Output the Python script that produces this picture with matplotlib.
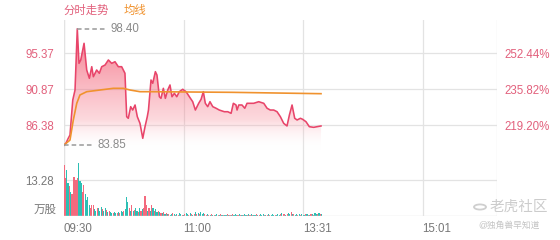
import numpy as np
import matplotlib
matplotlib.use("Agg")
import matplotlib.pyplot as plt
from matplotlib.colors import LinearSegmentedColormap
from matplotlib.patches import Polygon, Circle

plt.rcParams['font.family'] = ['Liberation Sans', 'Noto Sans CJK SC', 'DejaVu Sans']

# minute index from 09:30 (trading minutes), price at the line's vertices
price_t = [0, 1.5, 3.2, 4.5, 6.6, 8.3, 10.0, 11.3, 12.6, 15.1, 17.1, 19.1, 20.9, 22.1,
           24.6, 26.6, 28.4, 30.9, 33.4, 35.9, 38.4, 40.9, 43.4, 45.9, 47.2, 48.4,
           50.2, 51.7, 53.5, 55.2, 57.2, 59.3, 61.0, 62.7, 63.6, 65.5, 66.8, 68.8,
           70.0, 71.8, 73.0, 74.8, 76.3, 78.1, 79.8, 81.3, 83.1, 84.9, 86.8, 89.4,
           91.9, 94.4, 96.9, 98.9, 101.4, 103.2, 104.9, 106.4, 108.2, 109.9, 112.0,
           114.5, 116.9, 120.7, 123.3, 125.8, 127.5, 129.5, 130.3, 131.6, 134.0,
           136.1, 137.8, 142.8, 146.6, 150.4, 152.9, 155.3, 157.9, 160.4, 162.9,
           165.4, 167.9, 169.7, 171.7, 173.7, 175.5, 178.0, 179.7, 182.2, 184.7,
           188.0, 190.5, 193.5]
price = [83.85, 84.13, 84.72, 85.13, 89.50, 90.75, 98.40, 94.08, 94.50, 96.58, 93.25,
         92.21, 93.66, 92.41, 93.25, 92.84, 93.66, 93.87, 94.50, 94.08, 94.28, 93.66,
         93.66, 92.84, 87.42, 87.22, 88.67, 88.25, 88.88, 87.42, 86.59, 84.72, 86.17,
         87.42, 88.25, 92.00, 91.59, 93.04, 92.62, 89.91, 89.71, 90.96, 89.71, 90.75,
         91.38, 89.91, 90.34, 89.91, 90.54, 90.84, 90.54, 89.91, 89.29, 88.25, 89.09,
         89.59, 90.54, 89.09, 88.67, 89.29, 88.67, 88.47, 88.25, 88.04, 88.04, 87.84,
         89.09, 88.88, 88.25, 88.88, 88.88, 88.47, 89.09, 89.09, 89.29, 89.09, 88.47,
         88.25, 88.25, 88.04, 87.42, 86.59, 86.26, 87.63, 88.88, 87.22, 87.01, 87.22,
         87.09, 86.79, 86.17, 86.09, 86.17, 86.26]

avg_t = [0, 4.5, 7.0, 9.6, 12.0, 17.1, 27.1, 37.1, 44.6, 49.7, 57.2, 64.8, 126.5, 193.5]
avg_price = [83.88, 84.50, 87.00, 89.09, 90.13, 90.54, 90.75, 90.96, 90.96, 90.75,
             90.54, 90.54, 90.46, 90.29]

volume = [
    18.8, 14.0, 17.0, 12.0, 11.0, 9.0, 8.0, 14.5, 14.3, 13.3,
    14.0, 19.4, 13.0, 12.0, 9.0, 11.4, 8.0, 6.0, 7.1, 4.0,
    3.0, 4.0, 4.2, 2.5, 2.0, 2.8, 3.0, 2.0, 3.2, 2.5,
    2.0, 3.0, 2.2, 1.5, 1.8, 1.5, 1.2, 1.0, 1.5, 1.0,
    1.2, 1.5, 1.0, 2.0, 1.5, 2.0, 2.5, 7.1, 5.0, 3.0,
    2.0, 4.0, 2.0, 2.2, 3.0, 2.0, 1.5, 3.0, 2.0, 2.5,
    3.0, 7.4, 4.0, 2.0, 3.0, 2.0, 4.0, 3.0, 2.0, 2.5,
    1.5, 2.0, 1.5, 1.2, 1.0, 1.5, 0.8, 1.0, 0.6, 0.8,
    0.5, 0.7, 1.0, 0.6, 0.4, 0.8, 0.5, 1.2, 0.6, 0.4,
    0.5, 0.8, 1.0, 0.6, 0.5, 1.1, 0.7, 0.4, 0.9, 1.3,
    0.6, 1.0, 0.8, 1.4, 0.7, 1.2, 0.6, 0.5, 0.9, 0.4,
    0.3, 0.6, 0.4, 0.3, 0.5, 0.8, 0.3, 0.4, 0.6, 0.3,
    0.5, 0.4, 0.3, 0.7, 0.4, 0.3, 0.5, 0.6, 0.4, 0.8,
    0.5, 0.4, 0.6, 0.3, 0.5, 0.4, 0.7, 0.5, 0.4, 0.6,
    0.5, 0.8, 0.4, 0.5, 0.3, 0.6, 0.4, 0.5, 0.7, 0.4,
    0.6, 0.5, 0.3, 0.4, 0.8, 0.5, 0.4, 0.6, 0.3, 0.5,
    0.4, 0.7, 0.5, 0.9, 1.1, 0.6, 0.8, 0.5, 0.7, 1.2,
    0.9, 1.4, 0.7, 0.6, 0.5, 0.8, 0.4, 0.6, 0.5, 0.7,
    0.4, 0.5, 0.6, 0.8, 0.5, 0.4, 0.7, 0.6, 0.5, 1.0,
    0.8, 0.6, 1.2, 0.7, 0.9,
]
# r = up minute, g = down minute
vol_dir = ("rrggrgrrrr" "rgggrrgggg" "rrrggrgggr" "ggrgrggrgg" "rgrggrgggr"
           "grgrggrgrg" "rrrgrgrgrg" "grgrgrgrgr" "ggrgrgrggr" "grggrgrgrg"
           "rgrgggrrgr" "grgrggrgrg" "rggrgrgrgg" "grgrgrggrg" "rgrggrgrgg"
           "grgrgrgggr" "gggrgrrgrg" "grgrggrgrg" "ggrgrgrgrg" "grgrg")

price_ticks = [95.37, 90.87, 86.38]
price_labels = ['95.37', '90.87', '86.38']
pct_labels = ['252.44%', '235.82%', '219.20%']
vol_ticks = [13.28]
vol_labels = ['13.28']
time_ticks = [0, 90, 180, 270]
time_labels = ['09:30', '11:00', '13:31', '15:01']
n_minutes = 326

RED = '#e8456a'
PINK_TXT = '#e2607c'
ORANGE = '#f0922e'
UP = '#f36a7e'
DOWN = '#2dbfb4'
GRID = '#e3e3e3'
GRAY_TXT = '#777777'

fig = plt.figure(figsize=(5.6, 2.4), dpi=100)
W, H = 560, 240
x0, x1 = 64, 497
ax = fig.add_axes([x0 / W, 1 - 150 / H, (x1 - x0) / W, 130 / H])
axv = fig.add_axes([x0 / W, 1 - 216 / H, (x1 - x0) / W, 66 / H])

p_lo, p_hi = 83.26, 99.49
ax.set_xlim(0, n_minutes)
ax.set_ylim(p_lo, p_hi)

# gradient fill under the price line
cmap = LinearSegmentedColormap.from_list(
    'fade', [(0.0, (1, 1, 1, 0)), (0.25, (0.97, 0.5, 0.56, 0.3)),
             (1.0, (0.94, 0.32, 0.42, 0.8))])
grad = np.linspace(0, 1, 256).reshape(-1, 1)
im = ax.imshow(grad, extent=[0, n_minutes, p_lo, max(price)], origin='lower',
               aspect='auto', cmap=cmap, zorder=1, interpolation='bicubic')
verts = [(price_t[0], p_lo)] + list(zip(price_t, price)) + [(price_t[-1], p_lo)]
poly = Polygon(verts, closed=True, facecolor='none', edgecolor='none')
ax.add_patch(poly)
im.set_clip_path(poly)

ax.plot(price_t, price, color=RED, lw=1.15, zorder=3)
ax.plot(avg_t, avg_price, color=ORANGE, lw=1.2, zorder=4)
ax.set_xlim(0, n_minutes)
ax.set_ylim(p_lo, p_hi)

# high / low markers
i_hi = int(np.argmax(price))
i_lo = int(np.argmin(price))
for t, v in [(price_t[i_hi], price[i_hi]), (price_t[i_lo], price[i_lo])]:
    ax.plot([t, t + 21], [v, v], color='#999999', lw=1.1, ls=(0, (3, 2)), zorder=5)
    ax.text(t + 25, v, f'{v:.2f}', color='#8a8a8a', fontsize=8.3, va='center',
            ha='left', zorder=5)

for a in (ax, axv):
    a.set_xticks(time_ticks)
    a.grid(True, axis='x', color=GRID, lw=0.9)
    for s in a.spines.values():
        s.set_visible(False)
    a.tick_params(length=0)
    a.set_axisbelow(True)
    for t in [0, n_minutes]:
        a.axvline(t, color=GRID, lw=0.9, zorder=0)

for v in price_ticks:
    ax.axhline(v, color=GRID, lw=0.9, zorder=0)
ax.set_yticks(price_ticks)
ax.set_yticklabels(price_labels, color=PINK_TXT, fontsize=8.3)
ax.tick_params(axis='y', pad=7)
ax.set_xticklabels([])

axr = ax.twinx()
axr.set_ylim(p_lo, p_hi)
axr.set_yticks(price_ticks)
axr.set_yticklabels(pct_labels, color=PINK_TXT, fontsize=8.3)
axr.tick_params(length=0, pad=5)
for s in axr.spines.values():
    s.set_visible(False)

# volume
colors = [UP if d == 'r' else DOWN for d in vol_dir]
axv.bar(np.arange(len(volume)), volume, width=0.85, color=colors, zorder=2)
axv.set_xlim(0, n_minutes)
axv.set_ylim(0, 24.35)
axv.axhline(vol_ticks[0], color=GRID, lw=0.9, zorder=0)
axv.axhline(0, color=GRID, lw=1.0, zorder=3)
axv.set_yticks(vol_ticks)
axv.set_yticklabels(vol_labels, color=GRAY_TXT, fontsize=8.3)
axv.tick_params(axis='y', pad=7)
axv.set_xticklabels(time_labels, color=GRAY_TXT, fontsize=8.3, ha='left')
axv.tick_params(axis='x', pad=5)
fig.text(57 / W, 1 - 210 / H, '万股', color=GRAY_TXT, fontsize=8.3,
         ha='right', va='center')

# header
fig.text(64 / W, 1 - 10 / H, '分时走势', color=PINK_TXT, fontsize=8.2, va='center')
fig.text(124 / W, 1 - 10 / H, '均线', color=ORANGE, fontsize=8.2, va='center')

# watermark
fig.patches.append(Circle((480 / W, 1 - 207 / H), 6 / W, transform=fig.transFigure,
                          facecolor='none', edgecolor='#cfcfcf', lw=1.3))
fig.text(490 / W, 1 - 207 / H, '老虎社区', color='#cccccc', fontsize=10.5,
         ha='left', va='center')
fig.text(478 / W, 1 - 225 / H, '@独角兽早知道', color='#c4c4c4', fontsize=6.3,
         ha='left', va='center')

fig.savefig('out.png', dpi=100)
